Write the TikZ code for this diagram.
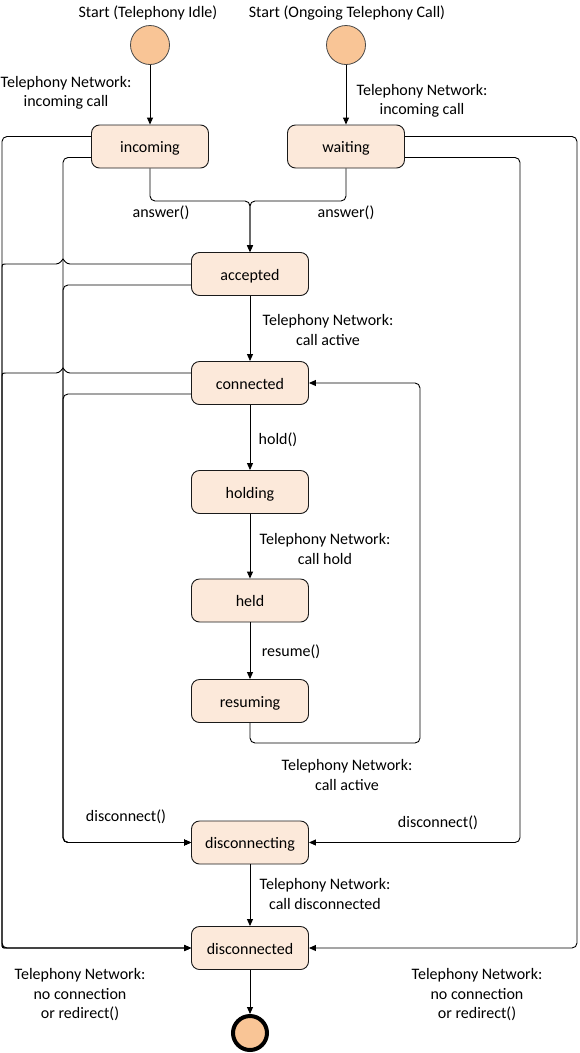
\documentclass[tikz,border=0pt]{standalone}
\usepackage{fontspec}
\setmainfont{Carlito}
\usetikzlibrary{arrows.meta,calc}
\definecolor{boxfill}{HTML}{FCE9DA}
\definecolor{dotfill}{HTML}{F9C596}
\definecolor{edge}{HTML}{1A1A1A}
\begin{document}
\begin{tikzpicture}[x=1pt,y=-1pt,
  every node/.style={font=\fontsize{16}{19.5}\selectfont},
  statebox/.style={draw=edge,line width=0.9pt,fill=boxfill,rounded corners=8pt,
    minimum width=117pt,minimum height=43pt,inner sep=0pt,text height=13pt,text depth=1pt},
  startdot/.style={circle,draw=edge!80,line width=0.8pt,fill=dotfill,minimum size=39pt,inner sep=0pt},
  enddot/.style={circle,draw=black,line width=4pt,fill=dotfill,minimum size=34pt,inner sep=0pt},
  lbl/.style={align=center,inner sep=0pt},
  arr/.style={draw=black,line width=0.9pt,-{Triangle[length=7pt,width=6pt]}},
  conn/.style={arr,rounded corners=5pt}
]
\useasboundingbox[fill=white] (0,0) rectangle (579,1053);

% states
\node[startdot] (s1) at (150,45) {};
\node[startdot] (s2) at (346,45) {};
\node[statebox] (inc) at (150,146.5) {incoming};
\node[statebox] (wai) at (346,146.5) {waiting};
\node[statebox] (acc) at (250,274) {accepted};
\node[statebox] (con) at (250,383) {connected};
\node[statebox] (hol) at (250,492) {holding};
\node[statebox] (hel) at (250,600.5) {held};
\node[statebox] (res) at (250,701) {resuming};
\node[statebox] (dcg) at (250,842.5) {disconnecting};
\node[statebox] (dcd) at (250,948) {disconnected};
\node[enddot] (fin) at (250,1033) {};

% texts
\node[lbl] (t1) at (148,13) {Start (Telephony Idle)};
\node[lbl] (t2) at (347,13) {Start (Ongoing Telephony Call)};
\node[lbl] (l1) at (66,93) {Telephony Network:\\incoming call};
\node[lbl] (l2) at (422,101) {Telephony Network:\\incoming call};
\node[lbl] (a1) at (161,213) {answer()};
\node[lbl] (a2) at (346,213) {answer()};
\node[lbl] (l3) at (328,330) {Telephony Network:\\call active};
\node[lbl] (h1) at (278,440) {hold()};
\node[lbl] (l4) at (325,549) {Telephony Network:\\call hold};
\node[lbl] (r1) at (291,652) {resume()};
\node[lbl] (l5) at (347,775) {Telephony Network:\\call active};
\node[lbl] (d1) at (126,817) {disconnect()};
\node[lbl] (d2) at (438,823) {disconnect()};
\node[lbl] (l6) at (325,894) {Telephony Network:\\call disconnected};
\node[lbl] (l7) at (80,995) {Telephony Network:\\no connection\\or redirect()};
\node[lbl] (l8) at (477,995) {Telephony Network:\\no connection\\or redirect()};

% vertical chain
\draw[arr] (s1) -- (inc);
\draw[arr] (s2) -- (wai);
\draw[conn] (inc.south) -- (150,201) -- (250,201) -- (acc.north);
\draw[conn] (wai.south) -- (346,201) -- (250,201) -- (acc.north);
\draw[arr] (acc) -- (con);
\draw[arr] (con) -- (hol);
\draw[arr] (hol) -- (hel);
\draw[arr] (hel) -- (res);
\draw[conn] (res.south) -- (250,743) -- (420,743) |- (con.east);
\draw[arr] (dcg) -- (dcd);
\draw[arr] (dcd) -- (fin);

% left side
\draw[conn] ([yshift=10pt]inc.west) -| (2,948) -- (dcd.west);
\draw[conn] ([yshift=-11pt]inc.west) -| (63,842.5) -- (dcg.west);
\draw[conn] ([yshift=-11pt]acc.west) -| (63,842.5) -- (dcg.west);
\draw[conn] ([yshift=-11pt]con.west) -| (63,842.5) -- (dcg.west);
\draw[arr] ([yshift=10pt]acc.west) -- (70,264)
  .. controls (66,264) and (64,260) .. (63,259)
  .. controls (62,260) and (60,264) .. (56,264)
  -- (7,264) .. controls (2,264) .. (2,269)
  -- (2,943) .. controls (2,948) .. (7,948) -- (dcd.west);
\draw[arr] ([yshift=10pt]con.west) -- (70,373)
  .. controls (66,373) and (64,369) .. (63,368)
  .. controls (62,369) and (60,373) .. (56,373)
  -- (7,373) .. controls (2,373) .. (2,378)
  -- (2,943) .. controls (2,948) .. (7,948) -- (dcd.west);

% right side
\draw[conn] ([yshift=10pt]wai.east) -| (577,948) -- (dcd.east);
\draw[conn] ([yshift=-11pt]wai.east) -| (520,842.5) -- (dcg.east);
\end{tikzpicture}
\end{document}
